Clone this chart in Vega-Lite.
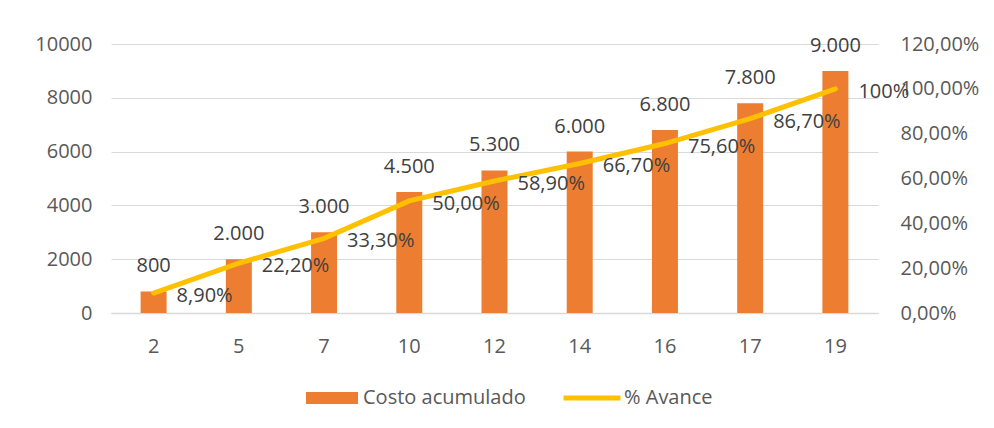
{
  "$schema": "https://vega.github.io/schema/vega-lite/v6.json",
  "width": 767,
  "height": 269,
  "autosize": {"type": "none"},
  "padding": {"left": 111, "top": 44, "right": 116, "bottom": 115},
  "config": {
    "locale": {"number": {"decimal": ",", "thousands": ".", "grouping": [3], "currency": ["", " €"]}},
    "view": {"stroke": null},
    "font": "Open Sans",
    "axis": {"labelFont": "Open Sans", "labelFontSize": 20, "labelColor": "#595959", "ticks": false, "domain": false, "grid": false},
    "legend": {"labelFont": "Open Sans", "labelFontSize": 20, "labelColor": "#595959", "labelLimit": 400}
  },
  "data": {
    "values": [
      {"dia": 2, "costo": 800, "avance": 0.089, "etiqueta": "8,90%"},
      {"dia": 5, "costo": 2000, "avance": 0.222, "etiqueta": "22,20%"},
      {"dia": 7, "costo": 3000, "avance": 0.333, "etiqueta": "33,30%"},
      {"dia": 10, "costo": 4500, "avance": 0.5, "etiqueta": "50,00%"},
      {"dia": 12, "costo": 5300, "avance": 0.589, "etiqueta": "58,90%"},
      {"dia": 14, "costo": 6000, "avance": 0.667, "etiqueta": "66,70%"},
      {"dia": 16, "costo": 6800, "avance": 0.756, "etiqueta": "75,60%"},
      {"dia": 17, "costo": 7800, "avance": 0.867, "etiqueta": "86,70%"},
      {"dia": 19, "costo": 9000, "avance": 1.0, "etiqueta": "100%"}
    ]
  },
  "encoding": {
    "x": {
      "field": "dia",
      "type": "ordinal",
      "scale": {"paddingInner": 0, "paddingOuter": 0},
      "axis": {"title": null, "labelAngle": 0, "domain": true, "domainColor": "#D9D9D9", "domainWidth": 1.5, "labelPadding": 23}
    }
  },
  "layer": [
    {
      "layer": [
        {
          "mark": {"type": "bar", "width": {"band": 0.305}},
          "encoding": {
            "y": {
              "field": "costo",
              "type": "quantitative",
              "scale": {"domain": [0, 10000]},
              "axis": {"title": null, "values": [0, 2000, 4000, 6000, 8000, 10000], "format": "d", "grid": true, "gridColor": "#D9D9D9", "gridWidth": 1.2, "labelPadding": 19}
            },
            "fill": {
              "datum": "Costo acumulado",
              "scale": {"range": ["#ED7D31"]},
              "legend": {"title": null, "orient": "none", "legendX": 195, "legendY": 328, "symbolType": "M-1,-0.23H1V0.23H-1Z", "symbolSize": 2704, "symbolStrokeWidth": 0, "labelOffset": 5}
            }
          }
        },
        {
          "mark": {"type": "text", "baseline": "middle", "dy": -25, "fontSize": 20, "color": "#404040", "font": "Open Sans"},
          "encoding": {
            "y": {"field": "costo", "type": "quantitative"},
            "text": {"field": "costo", "type": "quantitative", "format": ",.0f"}
          }
        }
      ]
    },
    {
      "layer": [
        {
          "mark": {"type": "line", "strokeWidth": 5, "strokeCap": "round"},
          "encoding": {
            "y": {
              "field": "avance",
              "type": "quantitative",
              "scale": {"domain": [0, 1.2]},
              "axis": {"title": null, "orient": "right", "format": ".2%", "values": [0, 0.2, 0.4, 0.6, 0.8, 1.0, 1.2], "labelPadding": 22}
            },
            "stroke": {
              "datum": "% Avance",
              "scale": {"range": ["#FFC000"]},
              "legend": {"title": null, "orient": "none", "legendX": 450, "legendY": 323, "symbolType": "stroke", "symbolSize": 3249, "symbolStrokeWidth": 5, "labelOffset": 1}
            }
          }
        },
        {
          "mark": {"type": "text", "align": "left", "baseline": "middle", "dx": 23, "dy": 3, "fontSize": 20, "color": "#404040", "font": "Open Sans"},
          "encoding": {
            "y": {"field": "avance", "type": "quantitative"},
            "text": {"field": "etiqueta"}
          }
        }
      ]
    }
  ],
  "resolve": {"scale": {"y": "independent"}}
}
